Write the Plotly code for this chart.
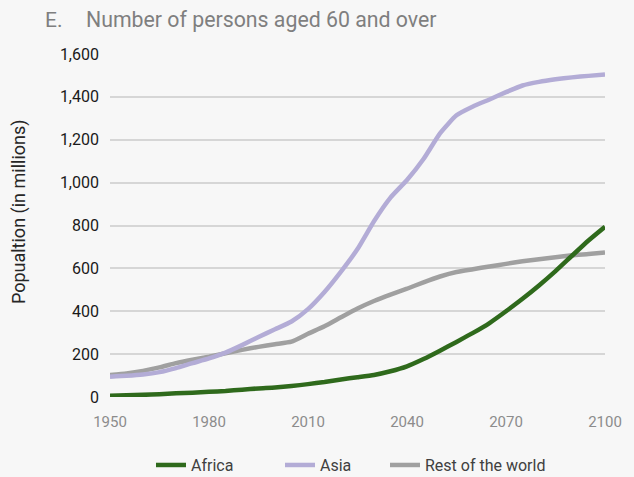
import plotly.graph_objects as go

years = list(range(1950, 2101, 5))

africa = [6, 8, 10, 13, 17, 20, 24, 28, 34, 40, 44, 51, 60, 70, 82, 92, 103,
          120, 143, 177, 216, 257, 299, 345, 400, 458, 520, 587, 659, 730, 794]
asia = [95, 99, 105, 116, 135, 158, 180, 207, 242, 280, 316, 352, 410, 490, 585,
        690, 820, 930, 1012, 1110, 1230, 1314, 1355, 1388, 1422, 1453, 1470,
        1482, 1491, 1498, 1505]
rest = [102, 110, 122, 138, 158, 174, 188, 204, 220, 234, 246, 258, 295, 330,
        372, 413, 448, 478, 505, 535, 562, 583, 596, 609, 621, 633, 643, 652,
        661, 667, 674]

x_ticks = [1950, 1980, 2010, 2040, 2070, 2100]
y_ticks = [0, 200, 400, 600, 800, 1000, 1200, 1400, 1600]

title_prefix = "E."
title_text = "Number of persons aged 60 and over"
y_title = "Popualtion (in millions)"

FONT = "Roboto"
BG = "#f7f7f7"

fig = go.Figure()
series = [
    ("Rest of the world", rest, "#a0a0a0", "legend3"),
    ("Asia", asia, "#b3acd6", "legend2"),
    ("Africa", africa, "#2f6a1c", "legend"),
]
for name, vals, color, leg in series:
    fig.add_trace(go.Scatter(
        x=years, y=vals, name=name, mode="lines",
        line=dict(color=color, width=4.5, shape="spline", smoothing=0.5),
        legend=leg,
    ))


def legend_at(px):
    return dict(
        orientation="h", x=px / 634, xanchor="left", xref="container",
        y=0.025, yanchor="middle", yref="container",
        font=dict(family=FONT, size=16, color="#404040"),
        bgcolor="rgba(0,0,0,0)", itemwidth=30,
    )


fig.update_layout(
    width=634, height=477,
    paper_bgcolor=BG, plot_bgcolor=BG,
    margin=dict(l=110, r=23, t=54, b=80),
    font=dict(family=FONT, color="#262626"),
    showlegend=True,
    legend=legend_at(151),
    legend2=legend_at(280),
    legend3=legend_at(385),
    xaxis=dict(
        range=[1950, 2100], tickvals=x_ticks, showgrid=False, zeroline=False,
        showline=False, ticks="", ticklabelstandoff=14,
        tickfont=dict(family=FONT, size=15, color="#8c8c8c"),
    ),
    yaxis=dict(
        range=[0, 1600], tickvals=y_ticks, tickformat=",d",
        showgrid=True, gridcolor="#d6d6d6", gridwidth=1.5, zeroline=False,
        showline=False, ticks="", ticklabelstandoff=10,
        tickfont=dict(family=FONT, size=16, color="#1a1a1a"),
    ),
)

fig.add_annotation(
    text=title_prefix, xref="paper", yref="paper",
    x=(42 - 110) / 501, y=(397 - 20) / 343, xanchor="left", yanchor="middle",
    showarrow=False, font=dict(family=FONT, size=21, color="#7f7f7f"),
)
fig.add_annotation(
    text=title_text, xref="paper", yref="paper",
    x=(84 - 110) / 501, y=(397 - 20) / 343, xanchor="left", yanchor="middle",
    showarrow=False, font=dict(family=FONT, size=21.3, color="#7f7f7f"),
)
fig.add_annotation(
    text=y_title, xref="paper", yref="paper",
    x=(18 - 110) / 501, y=(397 - 212) / 343, xanchor="center", yanchor="middle",
    textangle=-90, showarrow=False,
    font=dict(family=FONT, size=18, color="#262626"),
)

fig.write_html(
    "out.html",
    config={"displayModeBar": False},
    post_script=(
        "document.body.style.margin='0';"
        "document.body.style.padding='0';"
        "document.body.style.background='#f7f7f7';"
        "document.body.style.overflow='hidden';"
    ),
)
